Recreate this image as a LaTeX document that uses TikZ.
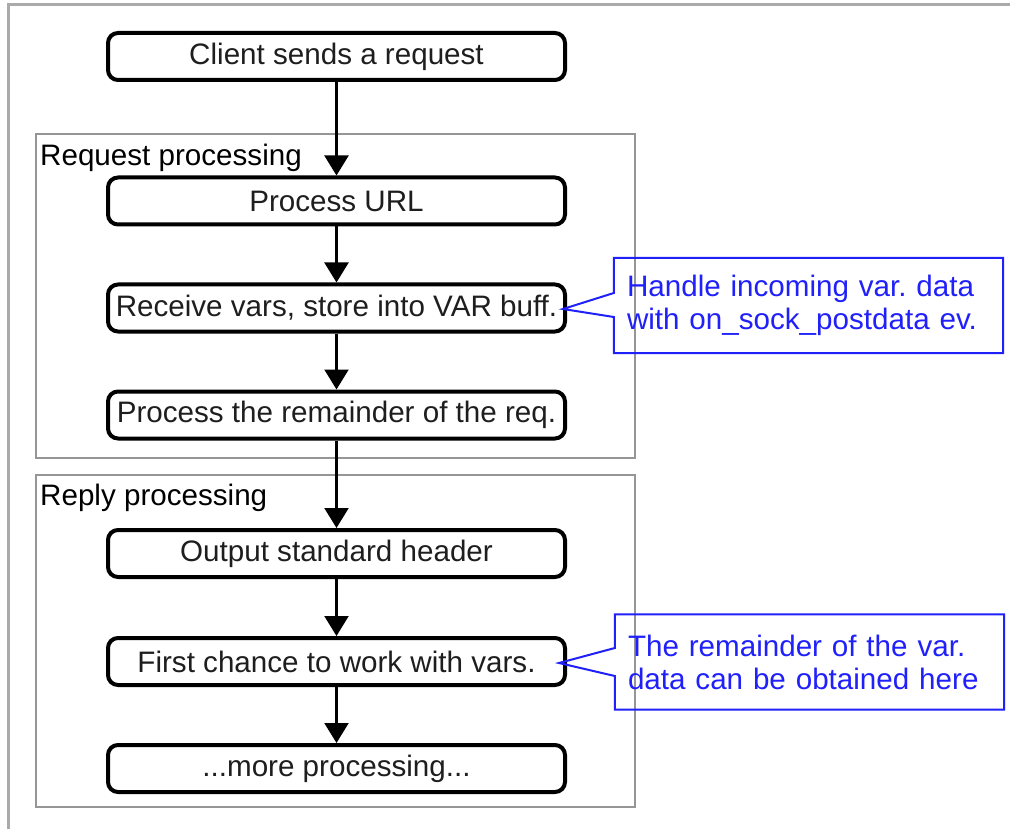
\documentclass[tikz,border=0pt]{standalone}
\usepackage{fontspec}
\setmainfont{Liberation Sans}
\usetikzlibrary{arrows.meta,calc}
\definecolor{callblue}{RGB}{32,32,250}
\definecolor{framegray}{RGB}{170,170,170}
\definecolor{groupgray}{RGB}{150,150,150}
\definecolor{textdark}{RGB}{30,30,30}
\frenchspacing
\begin{document}
\begin{tikzpicture}[x=1pt,y=-1pt,
  every node/.style={font=\fontsize{29.6}{33}\selectfont},
  flowbox/.style={draw=black, line width=4pt, rounded corners=10pt, fill=white,
    minimum width=457pt, minimum height=47pt, inner sep=0pt, text=textdark},
  flowarrow/.style={line width=2.2pt, -{Triangle[length=20pt,width=24pt]}},
  groupframe/.style={draw=groupgray, line width=2pt},
  grouplabel/.style={anchor=base west, inner sep=0pt, text=black},
  calltext/.style={minimum width=389pt, minimum height=95pt, text width=363pt,
    inner xsep=13pt, inner ysep=0pt, align=left, text=callblue},
  callline/.style={draw=callblue, line width=2pt, line join=miter}
]
\useasboundingbox (0,0) rectangle (1010,829);
\fill[white] (0,0) rectangle (1010,829);
% outer frame (top and left only)
\draw[framegray, line width=3pt] (8,829) -- (8,5) -- (1010,5);

% groups
\draw[groupframe] (36,134) rectangle (635,458);
\draw[groupframe] (36,475) rectangle (635,807);
\node[grouplabel] (lreq) at (40,166) {Request processing};
\node[grouplabel] (lrep) at (40,505) {Reply processing};

% boxes
\node[flowbox] (b1) at (336.5,56.5) {Client sends a request};
\node[flowbox] (b2) at (336.5,201) {Process URL};
\node[flowbox] (b3) at (336.5,308) {Receive vars, store into VAR buff.};
\node[flowbox] (b4) at (336.5,415) {Process the remainder of the req.};
\node[flowbox] (b5) at (336.5,553.5) {Output standard header};
\node[flowbox] (b6) at (336.5,661.5) {First chance to work with vars.};
\node[flowbox] (b7) at (336.5,768.5) {...more processing...};

% arrows
\draw[flowarrow] (b1.south) -- (b2.north);
\draw[flowarrow] (b2.south) -- (b3.north);
\draw[flowarrow] (b3.south) -- (b4.north);
\draw[flowarrow] (b4.south) -- (b5.north);
\draw[flowarrow] (b5.south) -- (b6.north);
\draw[flowarrow] (b6.south) -- (b7.north);

% callout 1
\node[calltext] (c1) at (808.5,305.5) {Handle incoming var. data\\with on\_sock\_postdata ev.};
\coordinate (t1) at ($(b3.east)+(-4,1)$);
\draw[callline] (c1.north west) -- (c1.north east) -- (c1.south east) -- (c1.south west)
  -- ($(c1.west)+(0,11.5)$) -- (t1) -- ($(c1.west)+(0,-12.5)$) -- cycle;

% callout 2
\node[calltext] (c2) at (809.5,662) {The remainder of the var.\\data can be obtained here};
\coordinate (t2) at ($(b6.east)+(-8,1.5)$);
\draw[callline] (c2.north west) -- (c2.north east) -- (c2.south east) -- (c2.south west)
  -- ($(c2.west)+(0,14)$) -- (t2) -- ($(c2.west)+(0,-14)$) -- cycle;
\end{tikzpicture}
\end{document}
